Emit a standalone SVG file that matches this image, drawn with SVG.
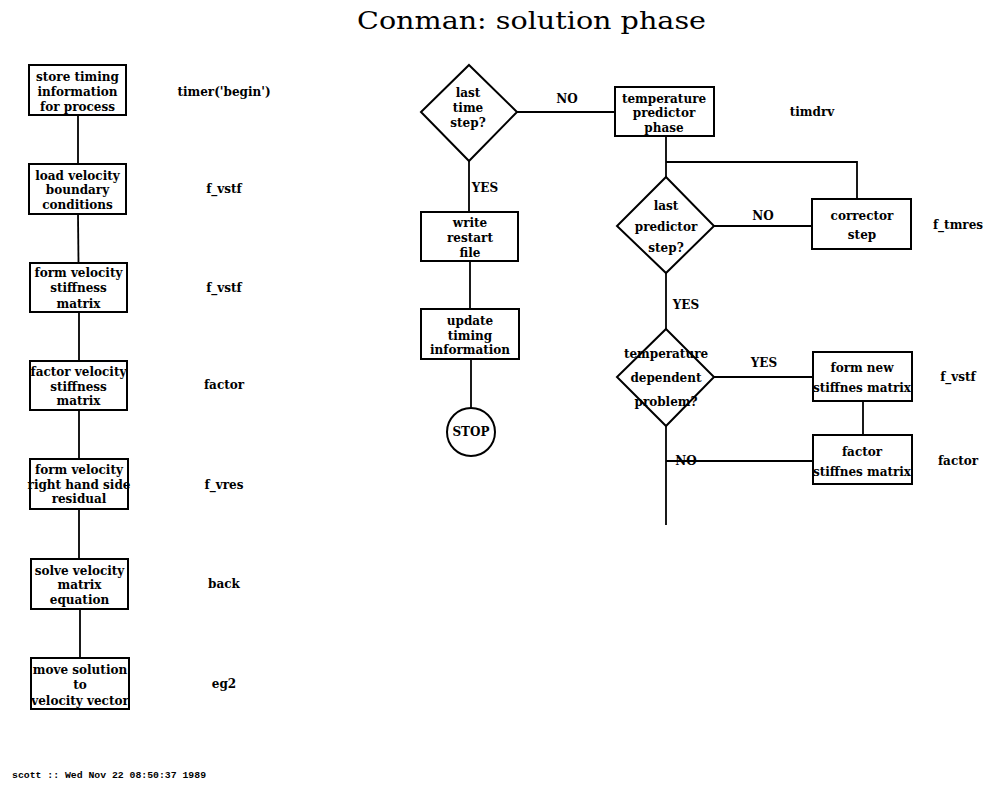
<svg xmlns="http://www.w3.org/2000/svg" width="1000" height="791" viewBox="0 0 1000 791">
<style>
.bx{fill:#fff;stroke:#000;stroke-width:2}
.t{font-family:"DejaVu Serif",serif;font-weight:bold;font-size:12px;text-anchor:middle;fill:#000}
.ln{stroke:#000;stroke-width:1.8;fill:none}
.title{font-family:"DejaVu Serif",serif;font-size:25px;fill:#000}
.foot{font-family:"Liberation Mono",monospace;font-size:9.8px;font-weight:bold;fill:#000}
</style>
<rect width="1000" height="791" fill="#fff"/>
<text class="title" x="357" y="29" textLength="349" lengthAdjust="spacingAndGlyphs">Conman: solution phase</text>

<g id="connectors">
<line class="ln" x1="78" y1="115" x2="78" y2="164"/>
<line class="ln" x1="78" y1="214" x2="78.5" y2="263"/>
<line class="ln" x1="79" y1="312" x2="79" y2="361"/>
<line class="ln" x1="79" y1="410" x2="79" y2="459"/>
<line class="ln" x1="79" y1="509" x2="79" y2="559"/>
<line class="ln" x1="80" y1="609" x2="80" y2="658"/>
<line class="ln" x1="517" y1="112" x2="615" y2="112"/>
<line class="ln" x1="469" y1="161" x2="469" y2="212"/>
<line class="ln" x1="470" y1="261" x2="470" y2="309"/>
<line class="ln" x1="471" y1="359" x2="471" y2="408"/>
<line class="ln" x1="666" y1="136" x2="666" y2="177"/>
<polyline class="ln" points="666,162 857,162 857,199"/>
<line class="ln" x1="714" y1="226" x2="812" y2="226"/>
<line class="ln" x1="666" y1="273" x2="666" y2="329"/>
<line class="ln" x1="714" y1="377" x2="813" y2="377"/>
<line class="ln" x1="863" y1="401" x2="863" y2="435"/>
<line class="ln" x1="666" y1="426" x2="666" y2="525"/>
<line class="ln" x1="666" y1="461" x2="813" y2="461"/>
<text class="t" x="567" y="103">NO</text>
<text class="t" x="485" y="192">YES</text>
<text class="t" x="763" y="220">NO</text>
<text class="t" x="686" y="309">YES</text>
<text class="t" x="764" y="367">YES</text>
<text class="t" x="686" y="465">NO</text>
</g>

<g id="n1"><rect class="bx" x="29" y="65" width="97" height="50"/><text class="t" x="77.5" y="81">store timing</text><text class="t" x="77.5" y="96">information</text><text class="t" x="77.5" y="111">for process</text></g>
<g id="n2"><rect class="bx" x="29" y="164" width="97" height="50"/><text class="t" x="77.5" y="180">load velocity</text><text class="t" x="77.5" y="194">boundary</text><text class="t" x="77.5" y="209">conditions</text></g>
<g id="n3"><rect class="bx" x="30" y="263" width="97" height="49"/><text class="t" x="78.5" y="277">form velocity</text><text class="t" x="78.5" y="292">stiffness</text><text class="t" x="78.5" y="308">matrix</text></g>
<g id="n4"><rect class="bx" x="30" y="361" width="97" height="49"/><text class="t" x="78.5" y="376">factor velocity</text><text class="t" x="78.5" y="391">stiffness</text><text class="t" x="78.5" y="405">matrix</text></g>
<g id="n5"><rect class="bx" x="30" y="459" width="98" height="50"/><text class="t" x="79" y="474">form velocity</text><text class="t" x="79" y="489">right hand side</text><text class="t" x="79" y="503">residual</text></g>
<g id="n6"><rect class="bx" x="31" y="559" width="97" height="50"/><text class="t" x="79.5" y="575">solve velocity</text><text class="t" x="79.5" y="589">matrix</text><text class="t" x="79.5" y="604">equation</text></g>
<g id="n7"><rect class="bx" x="31" y="658" width="98" height="51"/><text class="t" x="80" y="674">move solution</text><text class="t" x="80" y="689">to</text><text class="t" x="80" y="705">velocity vector</text></g>

<g id="labels-left">
<text class="t" x="224" y="96">timer('begin')</text>
<text class="t" x="224" y="193">f_vstf</text>
<text class="t" x="224" y="292">f_vstf</text>
<text class="t" x="224" y="389">factor</text>
<text class="t" x="224" y="489">f_vres</text>
<text class="t" x="224" y="588">back</text>
<text class="t" x="224" y="688">eg2</text>
</g>

<g id="d1"><polygon class="bx" points="469,65 517,112 469,161 421,112"/><text class="t" x="468" y="97">last</text><text class="t" x="468" y="112">time</text><text class="t" x="468" y="127">step?</text></g>
<g id="n-write"><rect class="bx" x="421" y="212" width="97" height="49"/><text class="t" x="470" y="227">write</text><text class="t" x="470" y="242">restart</text><text class="t" x="470" y="257">file</text></g>
<g id="n-update"><rect class="bx" x="421" y="309" width="98" height="50"/><text class="t" x="470" y="325">update</text><text class="t" x="470" y="340">timing</text><text class="t" x="470" y="354">information</text></g>
<g id="n-stop"><circle class="bx" cx="471" cy="432" r="24"/><text class="t" x="471" y="436">STOP</text></g>

<g id="n-pred"><rect class="bx" x="615" y="87" width="99" height="49"/><text class="t" x="664" y="103">temperature</text><text class="t" x="664" y="117">predictor</text><text class="t" x="664" y="132">phase</text></g>
<text class="t" x="812" y="116">timdrv</text>
<g id="d2"><polygon class="bx" points="666,177 714,226 666,273 617,226"/><text class="t" x="666" y="210">last</text><text class="t" x="666" y="231">predictor</text><text class="t" x="666" y="252">step?</text></g>
<g id="n-corr"><rect class="bx" x="812" y="199" width="99" height="50"/><text class="t" x="862" y="220">corrector</text><text class="t" x="862" y="239">step</text></g>
<text class="t" x="958" y="229">f_tmres</text>
<g id="d3"><polygon class="bx" points="666,329 714,377 666,426 617,377"/><text class="t" x="666" y="358">temperature</text><text class="t" x="666" y="382">dependent</text><text class="t" x="666" y="406">problem?</text></g>
<g id="n-formnew"><rect class="bx" x="813" y="352" width="99" height="49"/><text class="t" x="862" y="372">form new</text><text class="t" x="862" y="392">stiffnes matrix</text></g>
<text class="t" x="958" y="381">f_vstf</text>
<g id="n-factor"><rect class="bx" x="813" y="435" width="99" height="49"/><text class="t" x="862" y="456">factor</text><text class="t" x="862" y="476">stiffnes matrix</text></g>
<text class="t" x="958" y="465">factor</text>

<text class="foot" x="12" y="778">scott :: Wed Nov 22 08:50:37 1989</text>
</svg>
